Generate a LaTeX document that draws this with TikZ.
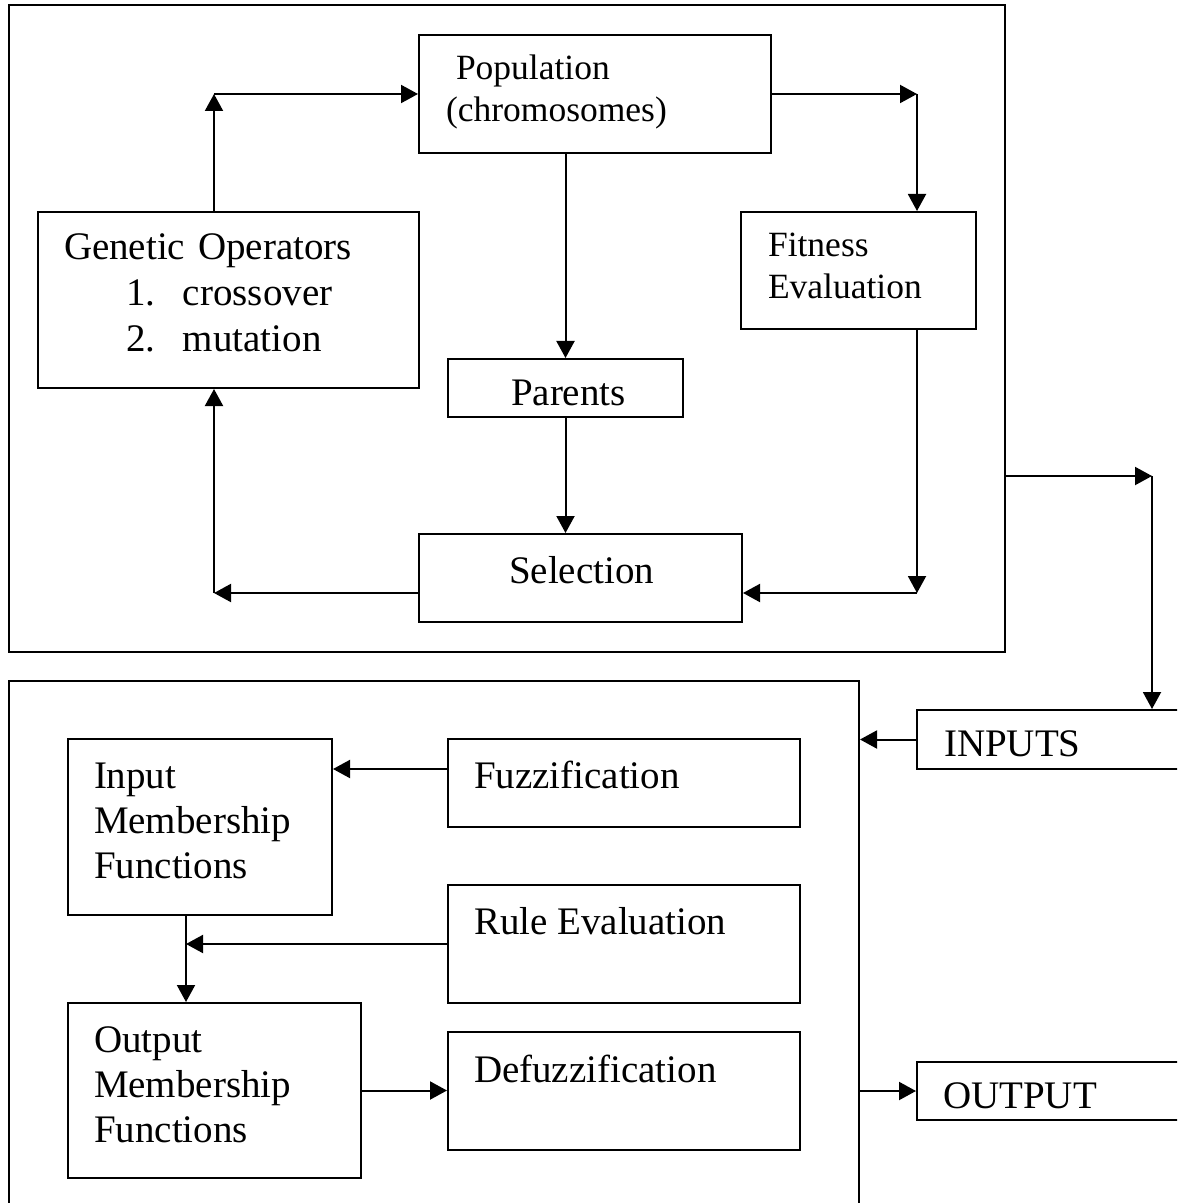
\documentclass[tikz,border=0pt]{standalone}
\usepackage{fontspec}
\setmainfont{Liberation Serif}
\usetikzlibrary{arrows.meta}
\usetikzlibrary{fit}

\begin{document}
\begin{tikzpicture}[x=.5pt, y=-.5pt, line width=1pt,
  >={Triangle[length=8.5pt,width=9pt]},
  box/.style={draw, inner sep=0pt},
  lbl/.style={anchor=base west, inner sep=0pt, align=left, font=\fontsize{19.5pt}{23pt}\selectfont},
  small/.style={font=\fontsize{17.75pt}{20.75pt}\selectfont},
  multi/.style={font=\fontsize{19.5pt}{22.5pt}\selectfont}]
\clip (0,0) rectangle (1177,1203);

% genetic algorithm
\node[box, fit={(9,5) (1005,652)}] (ga) {};
\node[box, fit={(419,35) (771,153)}] (pop) {};
\node[box, fit={(38,212) (419,388)}] (gop) {};
\node[box, fit={(741,212) (976,329)}] (fite) {};
\node[box, fit={(448,359) (683,417)}] (par) {};
\node[box, fit={(419,534) (742,622)}] (sel) {};

\node[lbl, small, text width=180pt] (popT) at (445,80) {\hspace*{5pt}Population\\(chromosomes)};
\node[lbl, small, text width=100pt] (fiteT) at (767,257) {Fitness\\Evaluation};
\node[lbl, text width=180pt] (gopT) at (63,260) {Genetic Operators\\
  \hspace*{31pt}\makebox[28.5pt][l]{1.}crossover\\
  \hspace*{31pt}\makebox[28.5pt][l]{2.}mutation};
\node[lbl] (parT) at (510,405) {Parents};
\node[lbl] (selT) at (508,583) {Selection};

% fuzzy controller
\node[box, fit={(9,681) (859,1240)}] (flc) {};
\node[box, fit={(68,739) (332,915)}] (imf) {};
\node[box, fit={(448,739) (800,827)}] (fuz) {};
\node[box, fit={(448,885) (800,1003)}] (rule) {};
\node[box, fit={(68,1003) (361,1178)}] (omf) {};
\node[box, fit={(448,1032) (800,1150)}] (dfz) {};
\node[box, fit={(917,710) (1220,769)}] (inp) {};
\node[box, fit={(917,1062) (1220,1120)}] (outp) {};

\node[lbl, multi, text width=150pt] (imfT) at (93,788) {Input\\Membership\\Functions};
\node[lbl, multi, text width=150pt] (omfT) at (93,1052) {Output\\Membership\\Functions};
\node[lbl] (fuzT) at (473,788) {Fuzzification};
\node[lbl] (ruleT) at (473,934) {Rule Evaluation};
\node[lbl] (dfzT) at (473,1082) {Defuzzification};
\node[lbl] (inpT) at (943,756) {INPUTS};
\node[lbl] (outpT) at (942,1108) {OUTPUT};

% corners of the connectors
\coordinate (gA) at (214,94);
\coordinate (gB) at (917,94);
\coordinate (gC) at (917,593);
\coordinate (gD) at (214,593);
\coordinate (gE) at (1152,476);
\coordinate (fA) at (400,769);
\coordinate (fB) at (186,944);

\draw[->] (gA |- gop.north) -- (gA);
\draw[->] (gA) -- (pop.west);
\draw[->] (pop.east) -- (gB);
\draw[->] (gB) -- (gB |- fite.north);
\draw[->] (par.north |- pop.south) -- (par.north);
\draw[->] (par.south) -- (par.south |- sel.north);
\draw[->] (gB |- fite.south) -- (gC);
\draw[->] (gC) -- (sel.east |- gC);
\draw[->] (sel.west |- gD) -- (gD);
\draw[->] (gD) -- (gA |- gop.south);
\draw[->] (ga.east |- gE) -- (gE);
\draw[->] (gE) -- (gE |- inp.north);
\draw[->] (inp.west) -- (flc.east |- inp.west);
\draw[->] (fuz.west |- fA) -- (imf.east |- fA);
\draw[->] (rule.west |- fB) -- (fB);
\draw[->] (fB |- imf.south) -- (fB |- omf.north);
\draw[->] (omf.east) -- (dfz.west |- omf.east);
\draw[->] (flc.east |- outp.west) -- (outp.west);
\end{tikzpicture}
\end{document}
